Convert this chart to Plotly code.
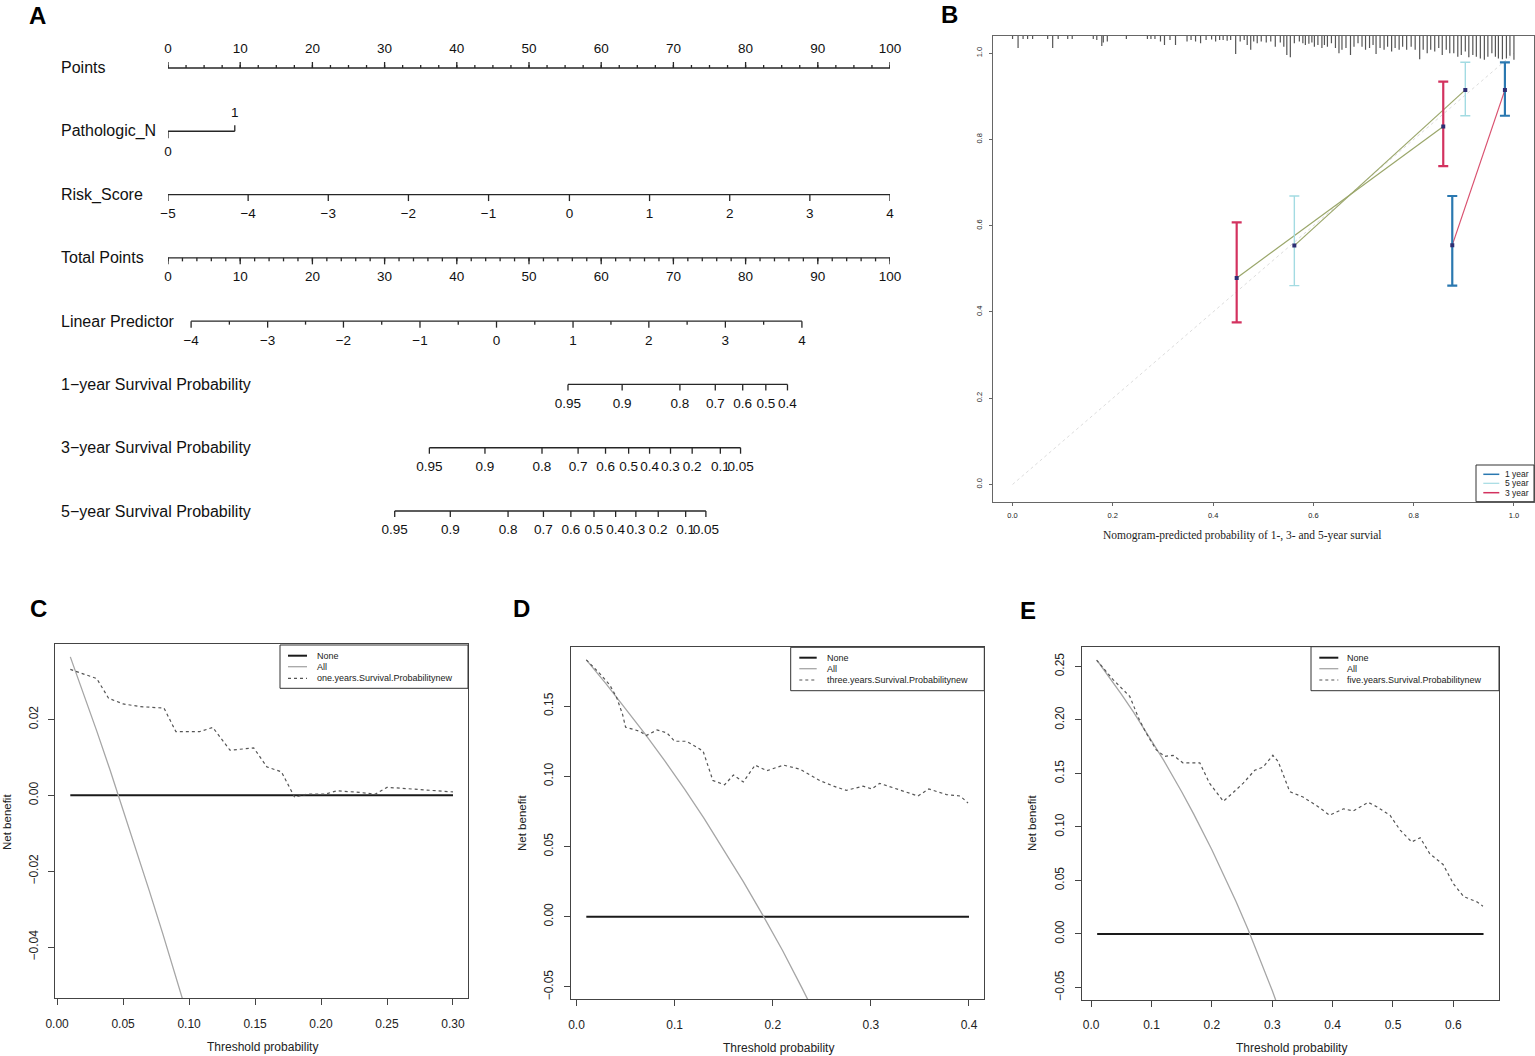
import plotly.graph_objects as go
import numpy as np

W, H = 1535, 1056
FONT = "Liberation Sans, Arial, sans-serif"
SERIF = "Liberation Serif, Times New Roman, serif"

# ---------------- A: nomogram scales (tick positions in points) ----------------
row_names = ["Points", "Pathologic_N", "Risk_Score", "Total Points", "Linear Predictor",
             "1\u2212year Survival Probability", "3\u2212year Survival Probability",
             "5\u2212year Survival Probability"]
points_labels = [0, 10, 20, 30, 40, 50, 60, 70, 80, 90, 100]
pathologic_n_labels = ["0", "1"]
pathologic_n_points = [0, 9.25]
risk_score_labels = [-5, -4, -3, -2, -1, 0, 1, 2, 3, 4]
risk_score_points = [0, 11.1, 22.2, 33.3, 44.4, 55.6, 66.7, 77.8, 88.9, 100]
total_points_labels = [0, 10, 20, 30, 40, 50, 60, 70, 80, 90, 100]
lp_labels = [-4, -3, -2, -1, 0, 1, 2, 3, 4]
lp_points = [3.2, 13.8, 24.3, 34.9, 45.5, 56.1, 66.6, 77.2, 87.8]
surv1_labels = ["0.95", "0.9", "0.8", "0.7", "0.6", "0.5", "0.4"]
surv1_points = [55.4, 62.9, 70.9, 75.8, 79.6, 82.8, 85.8]
surv3_labels = ["0.95", "0.9", "0.8", "0.7", "0.6", "0.5", "0.4", "0.3", "0.2", "0.1", "0.05"]
surv3_points = [36.2, 43.9, 51.8, 56.8, 60.6, 63.8, 66.7, 69.6, 72.6, 76.5, 79.3]
surv5_labels = ["0.95", "0.9", "0.8", "0.7", "0.6", "0.5", "0.4", "0.3", "0.2", "0.1", "0.05"]
surv5_points = [31.4, 39.1, 47.1, 52.0, 55.8, 59.0, 62.0, 64.8, 67.9, 71.7, 74.5]

# ---------------- B: calibration ----------------
cal_1y_pred = [0.877, 0.982]
cal_1y_obs = [0.555, 0.915]
cal_1y_lo = [0.461, 0.855]
cal_1y_hi = [0.669, 0.979]
cal_5y_pred = [0.562, 0.903]
cal_5y_obs = [0.554, 0.915]
cal_5y_lo = [0.461, 0.855]
cal_5y_hi = [0.669, 0.979]
cal_3y_pred = [0.447, 0.859]
cal_3y_obs = [0.479, 0.830]
cal_3y_lo = [0.376, 0.738]
cal_3y_hi = [0.608, 0.934]

rug_x = [0.000, 0.011, 0.021, 0.030, 0.040, 0.070, 0.080, 0.091, 0.110, 0.119, 0.161, 0.168,
         0.178, 0.181, 0.189, 0.227, 0.269, 0.276, 0.284, 0.295, 0.303, 0.314, 0.325, 0.348,
         0.356, 0.365, 0.375, 0.386, 0.397, 0.405, 0.413, 0.420, 0.428, 0.435, 0.445, 0.454,
         0.462, 0.468, 0.475, 0.481, 0.488, 0.496, 0.506, 0.515, 0.524, 0.534, 0.541, 0.547,
         0.554, 0.562, 0.572, 0.579, 0.584, 0.591, 0.597, 0.602, 0.609, 0.617, 0.622, 0.628,
         0.636, 0.644, 0.651, 0.657, 0.665, 0.674, 0.681, 0.689, 0.697, 0.704, 0.712, 0.719,
         0.725, 0.733, 0.741, 0.748, 0.756, 0.763, 0.771, 0.778, 0.786, 0.795, 0.803, 0.812,
         0.819, 0.827, 0.834, 0.842, 0.850, 0.857, 0.865, 0.872, 0.880, 0.888, 0.895, 0.903,
         0.910, 0.918, 0.925, 0.933, 0.941, 0.948, 0.956, 0.963, 0.969, 0.977, 0.985, 0.992, 1.000]
rug_h = [0.007, 0.028, 0.007, 0.007, 0.007, 0.007, 0.028, 0.007, 0.007, 0.007, 0.007, 0.009,
         0.023, 0.015, 0.013, 0.007, 0.007, 0.007, 0.007, 0.013, 0.021, 0.009, 0.021, 0.013,
         0.009, 0.013, 0.017, 0.009, 0.008, 0.013, 0.009, 0.009, 0.011, 0.009, 0.042, 0.013,
         0.009, 0.021, 0.032, 0.013, 0.017, 0.013, 0.015, 0.013, 0.025, 0.015, 0.025, 0.044,
         0.049, 0.017, 0.013, 0.017, 0.021, 0.018, 0.015, 0.025, 0.021, 0.028, 0.021, 0.025,
         0.017, 0.028, 0.040, 0.032, 0.028, 0.044, 0.025, 0.017, 0.025, 0.032, 0.028, 0.021,
         0.042, 0.028, 0.032, 0.025, 0.036, 0.028, 0.032, 0.025, 0.032, 0.025, 0.032, 0.054,
         0.032, 0.040, 0.032, 0.036, 0.028, 0.044, 0.032, 0.040, 0.040, 0.048, 0.044, 0.036,
         0.049, 0.044, 0.048, 0.052, 0.055, 0.048, 0.040, 0.048, 0.052, 0.054, 0.052, 0.046, 0.055]

# ---------------- C/D/E: decision curves ----------------
none_c_x, none_c_y = [0.01, 0.30], [0, 0]
all_c_x = [0.01, 0.02, 0.03, 0.04, 0.05, 0.06, 0.07, 0.08, 0.09, 0.10]
all_c_y = [0.0365, 0.0270, 0.0170, 0.0068, -0.0037, -0.0144, -0.0253, -0.0364, -0.0478, -0.0594]
model_c_x = [0.010, 0.030, 0.039, 0.050, 0.063, 0.081, 0.090, 0.108, 0.118, 0.131, 0.149, 0.159,
             0.170, 0.178, 0.180, 0.189, 0.203, 0.212, 0.229, 0.241, 0.250, 0.260, 0.285, 0.300]
model_c_y = [0.0332, 0.0308, 0.0256, 0.0241, 0.0234, 0.0230, 0.0168, 0.0168, 0.0179, 0.0119,
             0.0125, 0.0075, 0.0062, 0.0005, -0.0005, 0.0003, 0.0003, 0.0012, 0.0008, 0.0003,
             0.0021, 0.0019, 0.0013, 0.0009]

none_d_x, none_d_y = [0.01, 0.40], [0, 0]
all_d_x = [0.01, 0.03, 0.05, 0.07, 0.09, 0.11, 0.13, 0.15, 0.17, 0.19, 0.21, 0.23, 0.25]
all_d_y = [0.183, 0.166, 0.148, 0.130, 0.111, 0.091, 0.070, 0.048, 0.025, 0.001, -0.024, -0.051, -0.079]
model_d_x = [0.010, 0.024, 0.034, 0.041, 0.047, 0.050, 0.065, 0.071, 0.082, 0.092, 0.100, 0.112,
             0.129, 0.139, 0.151, 0.160, 0.170, 0.182, 0.194, 0.211, 0.228, 0.248, 0.262, 0.275,
             0.292, 0.301, 0.309, 0.330, 0.348, 0.359, 0.377, 0.391, 0.399]
model_d_y = [0.183, 0.173, 0.165, 0.156, 0.144, 0.135, 0.132, 0.129, 0.133, 0.131, 0.125, 0.125,
             0.118, 0.097, 0.094, 0.101, 0.096, 0.108, 0.104, 0.108, 0.105, 0.097, 0.093, 0.090,
             0.093, 0.091, 0.095, 0.090, 0.086, 0.091, 0.087, 0.086, 0.081]

none_e_x, none_e_y = [0.01, 0.65], [0, 0]
all_e_x = [0.01, 0.03, 0.05, 0.07, 0.10, 0.12, 0.15, 0.17, 0.20, 0.22, 0.24, 0.26, 0.28, 0.30, 0.32]
all_e_y = [0.2556, 0.2402, 0.2242, 0.2075, 0.1811, 0.1625, 0.1329, 0.1120, 0.0788, 0.0551,
           0.0303, 0.0041, -0.0236, -0.0529, -0.0838]
model_e_x = [0.009, 0.036, 0.064, 0.080, 0.091, 0.108, 0.122, 0.136, 0.152, 0.180, 0.196, 0.219,
             0.235, 0.252, 0.271, 0.285, 0.301, 0.310, 0.329, 0.351, 0.376, 0.395, 0.418, 0.434,
             0.459, 0.473, 0.495, 0.512, 0.531, 0.545, 0.561, 0.583, 0.600, 0.617, 0.639, 0.649]
model_e_y = [0.256, 0.238, 0.222, 0.200, 0.188, 0.172, 0.166, 0.167, 0.160, 0.160, 0.141, 0.124,
             0.132, 0.141, 0.153, 0.156, 0.167, 0.161, 0.133, 0.128, 0.119, 0.111, 0.117, 0.115,
             0.123, 0.119, 0.111, 0.097, 0.086, 0.090, 0.075, 0.065, 0.047, 0.035, 0.030, 0.026]


def pxx(x):
    return x / W


def pxy(y):
    return 1 - y / H


fig = go.Figure()
shapes = []
annotations = []

# ================= panel A =================
ROW_PX = 63.29


def off(p):
    return p / ROW_PX


def fmt(v):
    return str(v).replace("-", "\u2212")


seg_x, seg_y = [], []
txt_x, txt_y, txt_s = [], [], []


def hline(r, x0, x1):
    seg_x.extend([x0, x1, None])
    seg_y.extend([r, r, None])


def ticks(r, xs, length):
    for v in xs:
        seg_x.extend([v, v, None])
        seg_y.extend([r, r + off(length), None])


def labels(r, xs, texts, dy):
    for v, t in zip(xs, texts):
        txt_x.append(v)
        txt_y.append(r + off(dy))
        txt_s.append(t)


# Points (labels above, ticks up)
hline(0, points_labels[0], points_labels[-1])
ticks(0, points_labels, -6)
ticks(0, np.arange(0, 100.01, 2.5), -3)
labels(0, points_labels, [str(v) for v in points_labels], -18)
# Pathologic_N
hline(1, pathologic_n_points[0], pathologic_n_points[1])
ticks(1, pathologic_n_points[:1], 7)
ticks(1, pathologic_n_points[1:], -6)
labels(1, pathologic_n_points[:1], pathologic_n_labels[:1], 21)
labels(1, pathologic_n_points[1:], pathologic_n_labels[1:], -18)
# Risk_Score
hline(2, risk_score_points[0], risk_score_points[-1])
ticks(2, risk_score_points, 6.5)
labels(2, risk_score_points, [fmt(v) for v in risk_score_labels], 20)
# Total Points
hline(3, total_points_labels[0], total_points_labels[-1])
ticks(3, total_points_labels, 6.5)
ticks(3, np.arange(0, 100.01, 2), 3.5)
labels(3, total_points_labels, [str(v) for v in total_points_labels], 20)
# Linear Predictor
hline(4, lp_points[0], lp_points[-1])
ticks(4, lp_points, 6.5)
ticks(4, [(a + b) / 2 for a, b in zip(lp_points[:-1], lp_points[1:])], 3.5)
labels(4, lp_points, [fmt(v) for v in lp_labels], 20)
# survival scales
for r, pts, labs in [(5, surv1_points, surv1_labels), (6, surv3_points, surv3_labels),
                     (7, surv5_points, surv5_labels)]:
    hline(r, pts[0], pts[-1])
    ticks(r, pts, 6)
    labels(r, pts, labs, 20)

fig.add_trace(go.Scatter(x=seg_x, y=seg_y, mode="lines", line=dict(color="#262626", width=1.3),
                         xaxis="x", yaxis="y", hoverinfo="skip", showlegend=False))
fig.add_trace(go.Scatter(x=txt_x, y=txt_y, text=txt_s, mode="text", cliponaxis=False,
                         textfont=dict(family=FONT, size=13.5, color="#111"),
                         xaxis="x", yaxis="y", hoverinfo="skip", showlegend=False))

for i, name in enumerate(row_names):
    annotations.append(dict(text=name, xref="paper", yref="y", x=pxx(59), y=i, xanchor="left",
                            yanchor="middle", showarrow=False,
                            font=dict(family=FONT, size=16, color="#111")))

# ================= panel B =================
fig.add_trace(go.Scatter(x=[0, 1], y=[0, 1], mode="lines", xaxis="x2", yaxis="y2",
                         line=dict(color="#dcdcdc", width=1, dash="dot"), showlegend=False))
rx, ry = [], []
for xv, hv in zip(rug_x, rug_h):
    rx.extend([xv, xv, None])
    ry.extend([1.04, 1.04 - hv, None])
fig.add_trace(go.Scatter(x=rx, y=ry, mode="lines", xaxis="x2", yaxis="y2",
                         line=dict(color="#555555", width=1.2), showlegend=False))

series = [
    (cal_5y_pred, cal_5y_obs, cal_5y_lo, cal_5y_hi, "#a3dbe2", 1.4, "#9aa66a"),
    (cal_3y_pred, cal_3y_obs, cal_3y_lo, cal_3y_hi, "#d3325f", 2.2, "#9aa66a"),
    (cal_1y_pred, cal_1y_obs, cal_1y_lo, cal_1y_hi, "#2a78b0", 2.2, "#d9506e"),
]
for pred, obs, lo, hi, col, th, lcol in series:
    fig.add_trace(go.Scatter(x=pred, y=obs, mode="lines", xaxis="x2", yaxis="y2",
                             line=dict(color=lcol, width=1.2), showlegend=False))
for pred, obs, lo, hi, col, th, lcol in series:
    fig.add_trace(go.Scatter(
        x=pred, y=obs, mode="markers", xaxis="x2", yaxis="y2", showlegend=False,
        marker=dict(symbol="square", size=4, color="#2e2e73"),
        error_y=dict(type="data", symmetric=False,
                     array=[h - o for h, o in zip(hi, obs)],
                     arrayminus=[o - l for o, l in zip(obs, lo)],
                     color=col, thickness=th, width=5)))

# ================= panels C, D, E =================
dca = [
    ("x3", "y3", none_c_x, none_c_y, all_c_x, all_c_y, model_c_x, model_c_y),
    ("x4", "y4", none_d_x, none_d_y, all_d_x, all_d_y, model_d_x, model_d_y),
    ("x5", "y5", none_e_x, none_e_y, all_e_x, all_e_y, model_e_x, model_e_y),
]
for xa, ya, nx, ny, ax, ay, mx, my in dca:
    fig.add_trace(go.Scatter(x=nx, y=ny, mode="lines", xaxis=xa, yaxis=ya, showlegend=False,
                             line=dict(color="#1a1a1a", width=2)))
    fig.add_trace(go.Scatter(x=ax, y=ay, mode="lines", xaxis=xa, yaxis=ya, showlegend=False,
                             line=dict(color="#a6a6a6", width=1.3)))
    fig.add_trace(go.Scatter(x=mx, y=my, mode="lines", xaxis=xa, yaxis=ya, showlegend=False,
                             line=dict(color="#555555", width=1.2, dash="3px,3px")))

# ---------------- axes ----------------
hidden = dict(visible=False, showgrid=False, zeroline=False)
layout_axes = {
    "xaxis": dict(hidden, domain=[pxx(168), pxx(890)], range=[0, 100]),
    "yaxis": dict(hidden, domain=[pxy(549), pxy(30)], range=[7.6, -0.6]),
}


def box_axis(dom, rng, tv, tf, size, anchor, angle=0, tl=6, stand=6, lc="#444"):
    return dict(domain=dom, range=rng, tickvals=tv, tickformat=tf, anchor=anchor, tickangle=angle,
                showline=True, mirror=True, linecolor=lc, linewidth=1, ticks="outside",
                ticklen=tl, tickcolor=lc, showgrid=False, zeroline=False, automargin=False,
                ticklabelstandoff=stand, tickfont=dict(family=FONT, size=size, color="#222"))


layout_axes["xaxis2"] = box_axis([pxx(992.5), pxx(1534)], [-0.04, 1.04],
                                 [0, 0.2, 0.4, 0.6, 0.8, 1.0], ".1f", 7.5, "y2", tl=3, stand=3, lc="#666")
layout_axes["yaxis2"] = box_axis([pxy(501.7), pxy(36)], [-0.04, 1.04],
                                 [0, 0.2, 0.4, 0.6, 0.8, 1.0], ".1f", 7.5, "x2", angle=-90, tl=3,
                                 stand=4, lc="#666")
layout_axes["xaxis3"] = box_axis([pxx(55), pxx(468.3)], [-0.0016, 0.3116],
                                 [0, 0.05, 0.1, 0.15, 0.2, 0.25, 0.3], ".2f", 12, "y3", stand=8)
layout_axes["yaxis3"] = box_axis([pxy(998.3), pxy(644)], [-0.0535, 0.0399],
                                 [-0.04, -0.02, 0, 0.02], ".2f", 12, "x3", angle=-90, stand=5)
layout_axes["xaxis4"] = box_axis([pxx(571), pxx(984.3)], [-0.0056, 0.4156],
                                 [0, 0.1, 0.2, 0.3, 0.4], ".1f", 12, "y4", stand=8)
layout_axes["yaxis4"] = box_axis([pxy(999.3), pxy(647.3)], [-0.0588, 0.1919],
                                 [-0.05, 0, 0.05, 0.1, 0.15], ".2f", 12, "x4", angle=-90, stand=6)
layout_axes["xaxis5"] = box_axis([pxx(1081.7), pxx(1499)], [-0.0156, 0.6756],
                                 [0, 0.1, 0.2, 0.3, 0.4, 0.5, 0.6], ".1f", 12, "y5", stand=8)
layout_axes["yaxis5"] = box_axis([pxy(1000), pxy(646.7)], [-0.0617, 0.2685],
                                 [-0.05, 0, 0.05, 0.1, 0.15, 0.2, 0.25], ".2f", 12, "x5", angle=-90,
                                 stand=6)

# ---------------- hand drawn legends ----------------


def box_legend(x0, y0, x1, y1, sx0, sx1, tx, rows, items, size):
    shapes.append(dict(type="rect", xref="paper", yref="paper", x0=pxx(x0), x1=pxx(x1),
                       y0=pxy(y1), y1=pxy(y0), line=dict(color="#333", width=1),
                       fillcolor="white", layer="above"))
    for (label, color, width, dash), ry_ in zip(items, rows):
        shapes.append(dict(type="line", xref="paper", yref="paper", x0=pxx(sx0), x1=pxx(sx1),
                           y0=pxy(ry_), y1=pxy(ry_), line=dict(color=color, width=width, dash=dash)))
        annotations.append(dict(text=label, xref="paper", yref="paper", x=pxx(tx), y=pxy(ry_),
                                xanchor="left", yanchor="middle", showarrow=False,
                                font=dict(family=FONT, size=size, color="#222")))


dca_items = lambda lab: [("None", "#1a1a1a", 2, "solid"), ("All", "#a6a6a6", 1.3, "solid"),
                         (lab, "#555555", 1.2, "3px,3px")]
box_legend(280, 645, 468, 688.3, 288, 307, 315, [655.7, 666.7, 678.3],
           dca_items("one.years.Survival.Probabilitynew"), 9)
box_legend(790.7, 647.3, 984.3, 690.7, 799.3, 816.7, 825, [657.7, 668.7, 680],
           dca_items("three.years.Survival.Probabilitynew"), 9)
box_legend(1311, 646.7, 1499, 690.7, 1319.3, 1338.3, 1345, [657.7, 668.7, 680],
           dca_items("five.years.Survival.Probabilitynew"), 9)
box_legend(1476, 465, 1534, 501.7, 1483.3, 1499.3, 1503, [474.3, 483.3, 492.7],
           [("1 year", "#2a78b0", 1.5, "solid"), ("5 year", "#a3dbe2", 1.2, "solid"),
            ("3 year", "#d3325f", 1.5, "solid")], 8.5)

# ---------------- titles & panel letters ----------------
for letter, x, y in [("A", 37, 16), ("B", 949, 15), ("C", 38, 608), ("D", 521, 608), ("E", 1028, 610)]:
    annotations.append(dict(text="<b>%s</b>" % letter, xref="paper", yref="paper", x=pxx(x), y=pxy(y),
                            xanchor="center", yanchor="middle", showarrow=False,
                            font=dict(family=FONT, size=24, color="#000")))
for x, y in [(7, 822), (522, 823), (1032, 823)]:
    annotations.append(dict(text="Net benefit", xref="paper", yref="paper", x=pxx(x), y=pxy(y),
                            xanchor="center", yanchor="middle", textangle=-90, showarrow=False,
                            font=dict(family=FONT, size=11.5, color="#222")))
for x, y in [(262, 1047), (778, 1048), (1291, 1048)]:
    annotations.append(dict(text="Threshold probability", xref="paper", yref="paper", x=pxx(x),
                            y=pxy(y), xanchor="center", yanchor="middle", showarrow=False,
                            font=dict(family=FONT, size=12, color="#222")))
annotations.append(dict(text="Nomogram-predicted probability of 1-, 3- and 5-year survial",
                        xref="paper", yref="paper", x=pxx(1242), y=pxy(535), xanchor="center",
                        yanchor="middle", showarrow=False,
                        font=dict(family=SERIF, size=11.5, color="#222")))

fig.update_layout(width=W, height=H, margin=dict(l=0, r=0, t=0, b=0, autoexpand=False),
                  showlegend=False, plot_bgcolor="white", paper_bgcolor="white", shapes=shapes,
                  annotations=annotations, **layout_axes)

# the page's default body margin would shift the fixed-size figure
fig.write_html("out.html", config={"displayModeBar": False},
               post_script="document.body.style.margin='0';")
